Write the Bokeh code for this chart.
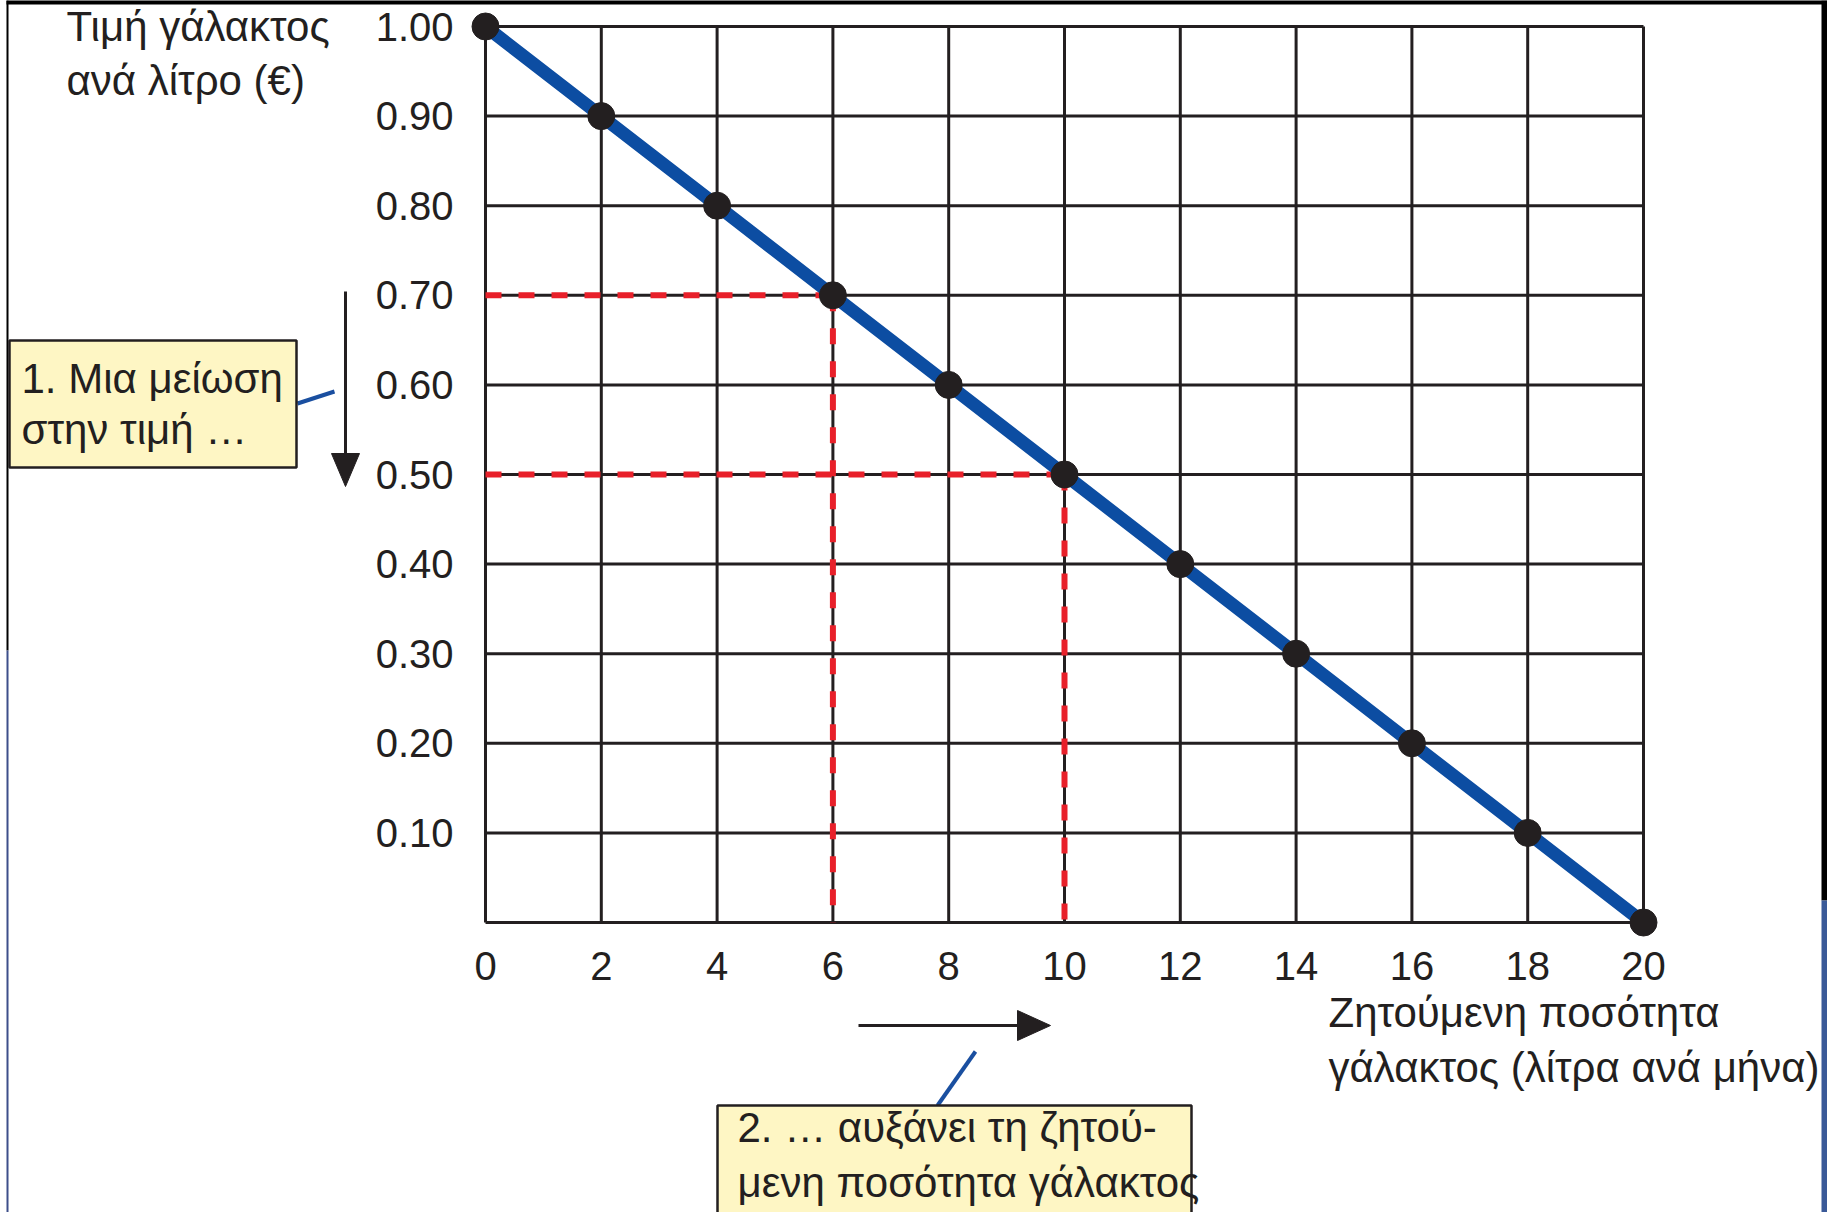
import math
from bokeh.plotting import figure
from bokeh.models import Range1d, Label, BoxAnnotation
from bokeh.embed import file_html
from bokeh.resources import INLINE
from bokeh.core.properties import value

# ---- data ----
quantity = [0, 2, 4, 6, 8, 10, 12, 14, 16, 18, 20]
price = [1.00, 0.90, 0.80, 0.70, 0.60, 0.50, 0.40, 0.30, 0.20, 0.10, 0.00]
x_ticks = [0, 2, 4, 6, 8, 10, 12, 14, 16, 18, 20]
x_labels = ["0", "2", "4", "6", "8", "10", "12", "14", "16", "18", "20"]
y_ticks = [0.1, 0.2, 0.3, 0.4, 0.5, 0.6, 0.7, 0.8, 0.9, 1.0]
y_labels = ["0.10", "0.20", "0.30", "0.40", "0.50", "0.60", "0.70", "0.80", "0.90", "1.00"]
highlight_q = [6, 10]
highlight_p = [0.70, 0.50]

y_title = ["Τιμή γάλακτος", "ανά λίτρο (€)"]
x_title = ["Ζητούμενη ποσότητα", "γάλακτος (λίτρα ανά μήνα)"]
note1 = ["1. Μια μείωση", "στην τιμή …"]
note2 = ["2. … αυξάνει τη ζητού-", "μενη ποσότητα γάλακτος"]

# ---- layout (pixels) ----
W, H = 1827, 1212
X0_PX, X1_PX = 485, 1643     # pixel of q_min / q_max
YT_PX, YB_PX = 26, 922       # pixel of p_max / p_min
q_min, q_max = min(quantity), max(quantity)
p_min, p_max = min(price), max(price)
sx = (X1_PX - X0_PX) / (q_max - q_min)
sy = (YB_PX - YT_PX) / (p_max - p_min)


def dx(px):
    return q_min + (px - X0_PX) / sx


def dy(py):
    return p_min + (YB_PX - py) / sy


INK = "#231F20"
FONT = "Liberation Sans"
FS = "40px"
FS_TXT = "42px"

p = figure(width=W, height=H,
           x_range=Range1d(dx(0), dx(W)),
           y_range=Range1d(dy(H), dy(0)),
           x_axis_type=None, y_axis_type=None,
           output_backend="svg", toolbar_location=None, title=None,
           min_border=0)
p.outline_line_color = None
p.background_fill_color = "white"
p.border_fill_color = "white"
p.grid.visible = False

# grid drawn as segments within the data area
h_levels = [p_min] + y_ticks
p.segment(x0=x_ticks, y0=[p_min] * len(x_ticks), x1=x_ticks, y1=[p_max] * len(x_ticks),
          line_color=INK, line_width=3)
p.segment(x0=[q_min] * len(h_levels), y0=h_levels, x1=[q_max] * len(h_levels), y1=h_levels,
          line_color=INK, line_width=3)

# tick labels
p.text(x=[q_min] * len(y_ticks), y=y_ticks, text=y_labels, x_offset=-32,
       text_align="right", text_baseline="middle",
       text_font=value(FONT), text_font_size=FS, text_color=INK)
p.text(x=x_ticks, y=[p_min] * len(x_ticks), text=x_labels, y_offset=29,
       text_align="center", text_baseline="top",
       text_font=value(FONT), text_font_size=FS, text_color=INK)

# red dashed guides
RED = "#E8202A"
p.segment(x0=[q_min] * len(highlight_q), y0=highlight_p, x1=highlight_q, y1=highlight_p,
          line_color=RED, line_width=6, line_dash="16 17")
p.segment(x0=highlight_q, y0=highlight_p, x1=highlight_q, y1=[p_min] * len(highlight_q),
          line_color=RED, line_width=6, line_dash="16 17")

# demand curve
p.line(quantity, price, line_width=13, line_color="#0C4DA2")
p.scatter(quantity, price, size=27, color=INK)


# ---- annotations ----
def arrow(x0, y0, x1, y1, head_len=33, head_half=14):
    L = math.hypot(x1 - x0, y1 - y0)
    ux, uy = (x1 - x0) / L, (y1 - y0) / L
    bx, by = x1 - ux * head_len, y1 - uy * head_len
    p.segment(x0=[dx(x0)], y0=[dy(y0)], x1=[dx(bx + ux * 2)], y1=[dy(by + uy * 2)],
              line_color=INK, line_width=3)
    xs = [dx(x1), dx(bx - uy * head_half), dx(bx + uy * head_half)]
    ys = [dy(y1), dy(by + ux * head_half), dy(by - ux * head_half)]
    p.patch(xs, ys, fill_color=INK, line_color=INK, line_width=1)


arrow(345, 291, 345, 486)
arrow(858, 1025, 1050, 1025, head_half=15)

BLUE2 = "#1A4FA0"
p.segment(x0=[dx(297)], y0=[dy(403)], x1=[dx(334)], y1=[dy(391)], line_color=BLUE2, line_width=4)
p.segment(x0=[dx(975)], y0=[dy(1051)], x1=[dx(937)], y1=[dy(1105)], line_color=BLUE2, line_width=4)

BOX_FILL = "#FEF6C4"
p.add_layout(BoxAnnotation(left=dx(9), right=dx(296), top=dy(340), bottom=dy(467),
                           fill_color=BOX_FILL, fill_alpha=1,
                           line_color=INK, line_alpha=1, line_width=2.5))
p.add_layout(BoxAnnotation(left=dx(717), right=dx(1191), top=dy(1105), bottom=dy(1216),
                           fill_color=BOX_FILL, fill_alpha=1,
                           line_color=INK, line_alpha=1, line_width=2.5))


def add_label(text, px, py, align="left"):
    p.add_layout(Label(x=dx(px), y=dy(py), text=text, text_font=FONT, text_font_size=FS_TXT,
                       text_color=INK, text_align=align, text_baseline="middle"))


add_label(y_title[0], 66, 26)
add_label(y_title[1], 66, 80)
add_label(x_title[0], 1328, 1012)
add_label(x_title[1], 1328, 1067)
add_label(note1[0], 21, 378)
add_label(note1[1], 21, 429)
add_label(note2[0], 737, 1127)
add_label(note2[1], 737, 1182)

# page frame decorations (edges of the scanned page)
edge_l = [dx(6), dx(6), dx(6), dx(1821), dx(1821)]
edge_r = [dx(1835), dx(8), dx(8), dx(1835), dx(1835)]
edge_t = [dy(-5), dy(0), dy(650), dy(0), dy(900)]
edge_b = [dy(4), dy(650), dy(1220), dy(900), dy(1220)]
edge_c = ["black", "black", "#3D4F8A", "black", "#3A5A98"]
p.quad(left=edge_l, right=edge_r, top=edge_t, bottom=edge_b,
       fill_color=edge_c, line_color=None)

open("out.html", "w").write(file_html(p, INLINE))
